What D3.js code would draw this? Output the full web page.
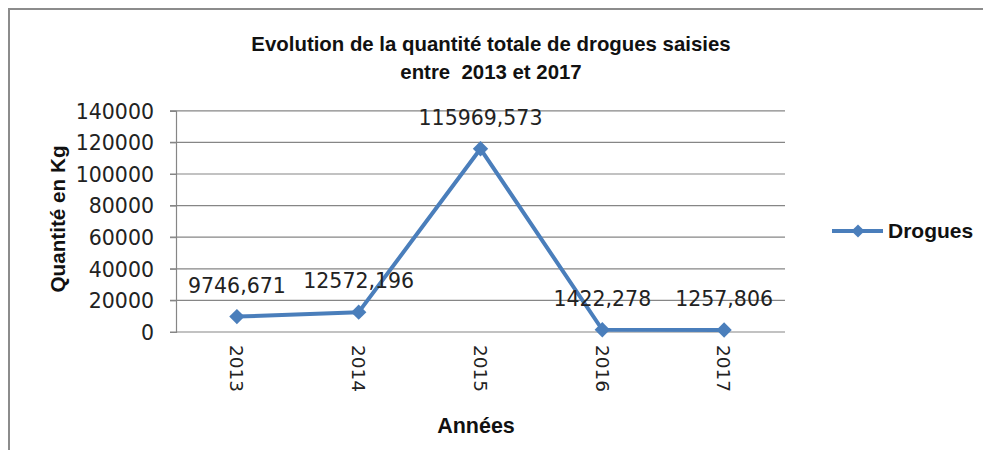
<!DOCTYPE html>
<html>
<head>
<meta charset="utf-8">
<script src="https://cdn.jsdelivr.net/npm/d3@7"></script>
<style>
  body { margin: 0; background: #fff; }
  svg { display: block; }
</style>
</head>
<body>
<svg id="chart" width="983" height="450"></svg>
<script>
const svgEl = document.getElementById("chart")
const width = +svgEl.getAttribute('width')
const height = +svgEl.getAttribute('height')
var svg = d3.select('#chart')

// dati
const annees = ["2013", "2014", "2015", "2016", "2017"]
const quantites = [9746.671, 12572.196, 115969.573, 1422.278, 1257.806]
const etiquettes = ["9746,671", "12572,196", "115969,573", "1422,278", "1257,806"]
const ticksY = [0, 20000, 40000, 60000, 80000, 100000, 120000, 140000]
const serie = "Drogues"

const bleu = "#4a7ebb"
const gris = "#868686"
const police = "'DejaVu Sans', Verdana, sans-serif"
const policeTitre = "'Liberation Sans', Arial, sans-serif"

// cornice
svg.append("path")
  .attr("d", `M 9,${height} V 9 H ${width}`)
  .attr("fill", "none")
  .attr("stroke", "#8c8c8c")
  .attr("stroke-width", 2)

const pLeft = 176, pRight = 785, pTop = 110.8, pBottom = 332

const x = d3.scaleBand().domain(annees).range([pLeft, pRight])
const y = d3.scaleLinear().domain([0, 140000]).range([pBottom, pTop])

// griglia
svg.append("g")
  .selectAll("line")
  .data(ticksY)
  .enter().append("line")
  .attr("x1", pLeft - 6)
  .attr("x2", pRight)
  .attr("y1", d => y(d))
  .attr("y2", d => y(d))
  .attr("stroke", gris)
  .attr("stroke-width", 1.2)

// asse y
const asseY = svg.append("g")
  .attr("transform", `translate(${pLeft}, 0)`)
  .call(d3.axisLeft(y).tickValues(ticksY).tickSize(6).tickPadding(16).tickFormat(d3.format("d")))
asseY.select(".domain").attr("stroke", gris).attr("stroke-width", 1.2)
asseY.selectAll(".tick line").attr("stroke", gris)
asseY.selectAll("text")
  .attr("font-family", police)
  .attr("font-size", "20.5px")
  .attr("fill", "#222")
  .attr("dy", "0.36em")

// asse x
const asseX = svg.append("g")
  .attr("transform", `translate(0, ${pBottom})`)
  .call(d3.axisBottom(x).tickSize(0))
asseX.select(".domain").remove()
asseX.selectAll("text")
  .attr("font-family", police)
  .attr("font-size", "18.5px")
  .attr("fill", "#222")
  .attr("transform", "rotate(90)")
  .attr("text-anchor", "start")
  .attr("x", 13)
  .attr("y", 0)
  .attr("dy", "0.36em")

// linea
const linea = d3.line()
  .x((d, i) => x(annees[i]) + x.bandwidth() / 2)
  .y(d => y(d))

svg.append("path")
  .datum(quantites)
  .attr("d", linea)
  .attr("fill", "none")
  .attr("stroke", bleu)
  .attr("stroke-width", 4)
  .attr("stroke-linejoin", "round")

const diamante = d3.symbol().type(d3.symbolDiamond2).size(150)

svg.append("g")
  .selectAll("path")
  .data(quantites)
  .enter().append("path")
  .attr("d", diamante)
  .attr("transform", (d, i) => `translate(${x(annees[i]) + x.bandwidth() / 2}, ${y(d)})`)
  .attr("fill", bleu)

// etichette
svg.append("g")
  .selectAll("text")
  .data(quantites)
  .enter().append("text")
  .attr("x", (d, i) => x(annees[i]) + x.bandwidth() / 2)
  .attr("y", d => y(d) - 24)
  .attr("text-anchor", "middle")
  .attr("font-family", police)
  .attr("font-size", "20.5px")
  .attr("fill", "#222")
  .text((d, i) => etiquettes[i])

// titolo
svg.append("text")
  .attr("x", 491).attr("y", 51)
  .attr("text-anchor", "middle")
  .attr("font-family", policeTitre)
  .attr("font-weight", "bold")
  .attr("font-size", "20.4px")
  .attr("fill", "#111")
  .text("Evolution de la quantité totale de drogues saisies")
svg.append("text")
  .attr("x", 491).attr("y", 79)
  .attr("text-anchor", "middle")
  .attr("font-family", policeTitre)
  .attr("font-weight", "bold")
  .attr("font-size", "20.4px")
  .attr("fill", "#111")
  .attr("xml:space", "preserve")
  .text("entre  2013 et 2017")

// titoli assi
svg.append("text")
  .attr("transform", `translate(65, 219) rotate(-90)`)
  .attr("text-anchor", "middle")
  .attr("font-family", policeTitre)
  .attr("font-weight", "bold")
  .attr("font-size", "20.7px")
  .attr("fill", "#111")
  .text("Quantité en Kg")

svg.append("text")
  .attr("x", 476).attr("y", 433)
  .attr("text-anchor", "middle")
  .attr("font-family", policeTitre)
  .attr("font-weight", "bold")
  .attr("font-size", "21.5px")
  .attr("fill", "#111")
  .text("Années")

// legenda
const leg = svg.append("g").attr("transform", "translate(832, 231)")
leg.append("line")
  .attr("x1", 0).attr("x2", 51)
  .attr("stroke", bleu).attr("stroke-width", 4)
leg.append("path")
  .attr("d", d3.symbol().type(d3.symbolDiamond2).size(110))
  .attr("transform", "translate(26, 0)")
  .attr("fill", bleu)
leg.append("text")
  .attr("x", 56).attr("y", 0).attr("dy", "0.35em")
  .attr("font-family", policeTitre)
  .attr("font-weight", "bold")
  .attr("font-size", "21px")
  .attr("fill", "#111")
  .text(serie)
</script>
</body>
</html>
